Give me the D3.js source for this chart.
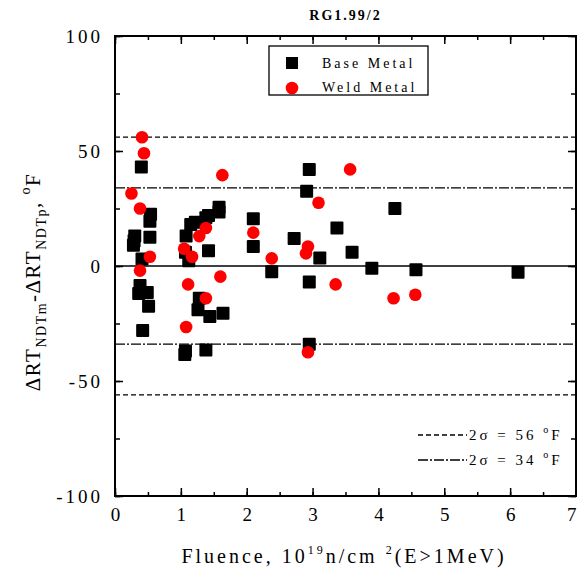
<!DOCTYPE html>
<html>
<head>
<meta charset="utf-8">
<script src="https://cdn.jsdelivr.net/npm/d3@7"></script>
<style>
  body { margin: 0; background: #fff; }
  svg { display: block; }
  svg text { font-family: "Liberation Serif", "Times New Roman", serif; }
</style>
</head>
<body>
<div id="chart"></div>
<script>
// data
const title = 'RG1.99/2'
const xTicks = [0, 1, 2, 3, 4, 5, 6, 7]
const yTicks = [-100, -50, 0, 50, 100]

// base metal: [fluence, delta]
const baseMetal = [
  [0.40, 43], [0.54, 22.5], [0.53, 19.5], [0.30, 13], [0.53, 12.5], [0.28, 9],
  [0.29, 11], [0.41, 3], [1.08, 13], [1.15, 18], [1.22, 19], [1.38, 21],
  [1.42, 22], [1.58, 25.5], [1.58, 23.5], [2.10, 20.5], [1.07, 6], [1.12, 2.3],
  [1.42, 6.6], [2.10, 8.5], [2.38, -2.5], [0.38, -8.5], [0.36, -12], [0.49, -11.5],
  [0.51, -17.5], [0.42, -28], [1.28, -14], [1.26, -19], [1.44, -22], [1.64, -20.5],
  [1.07, -37], [1.06, -38.5], [1.38, -36.5], [2.95, 42], [2.91, 32.5], [4.25, 25],
  [3.37, 16.5], [2.72, 12], [3.11, 3.5], [3.60, 6], [3.90, -1], [4.57, -1.6],
  [2.95, -7], [2.95, -34], [6.12, -2.7],
]

// weld metal: [fluence, delta]
const weldMetal = [
  [0.41, 56], [0.44, 49], [1.63, 39.5], [0.25, 31.5], [0.38, 25], [1.38, 16.5],
  [1.28, 13], [2.10, 14.5], [0.53, 4], [1.05, 7.5], [1.17, 4], [2.38, 3.3],
  [0.38, -2], [1.11, -8], [1.60, -4.6], [1.38, -14], [1.08, -26.5], [3.57, 42],
  [3.09, 27.5], [2.93, 8.5], [2.90, 5.5], [3.35, -8], [4.23, -14], [4.56, -12.5],
  [2.93, -37.5],
]

// 2 sigma bands
const sigmaBands = [56, 34]

const W = 577, H = 573
const margin = { top: 36, right: 0, bottom: 76, left: 115 }
const serif = '"Liberation Serif", "Times New Roman", serif'

const svg = d3.select('#chart').append('svg')
  .attr('width', W)
  .attr('height', H)

const x = d3.scaleLinear().domain([0, 7]).range([margin.left, W - 1])
const y = d3.scaleLinear().domain([-100, 100]).range([H - margin.bottom - 1, margin.top])

// clip for markers and lines
svg.append('clipPath').attr('id', 'plot-clip')
  .append('rect')
  .attr('x', x(0)).attr('y', y(100))
  .attr('width', x(7) - x(0)).attr('height', y(-100) - y(100))

const plot = svg.append('g').attr('clip-path', 'url(#plot-clip)')

// reference lines
plot.append('line')
  .attr('x1', x(0)).attr('x2', x(7))
  .attr('y1', y(0)).attr('y2', y(0))
  .attr('stroke', '#000').attr('stroke-width', 1.5)

sigmaBands.forEach((s, i) => {
  ;[s, -s].forEach(v => {
    plot.append('line')
      .attr('x1', x(0)).attr('x2', x(7))
      .attr('y1', y(v)).attr('y2', y(v))
      .attr('stroke', '#000').attr('stroke-width', 1.3)
      .attr('stroke-dasharray', i === 0 ? '5,3' : '10,2,2,2')
  })
})

// markers
const sq = 13
plot.selectAll('.base').data(baseMetal).enter()
  .append('rect')
  .attr('class', 'base')
  .attr('x', d => x(d[0]) - sq / 2)
  .attr('y', d => y(d[1]) - sq / 2)
  .attr('width', sq).attr('height', sq)
  .attr('rx', 1)
  .attr('fill', '#000')

plot.selectAll('.weld').data(weldMetal).enter()
  .append('circle')
  .attr('class', 'weld')
  .attr('cx', d => x(d[0]))
  .attr('cy', d => y(d[1]))
  .attr('r', 6.3)
  .attr('fill', '#ff0000')

// axes with inward ticks
const xMinor = d3.range(0, 7.01, 0.5)
const yMinor = d3.range(-100, 100.1, 25)
const intFmt = d => String(d) // plain hyphen for negatives

function styleAxis(g) {
  g.attr('font-family', serif)
  g.select('.domain').remove()
  g.selectAll('line').attr('stroke', '#000').attr('stroke-width', 1.5)
  g.selectAll('text')
    .attr('fill', '#000')
    .style('font-size', '19px')
    .style('font-family', serif)
}

svg.append('g')
  .attr('transform', `translate(0,${y(-100)})`)
  .call(d3.axisBottom(x).tickValues(xMinor).tickSize(-4).tickFormat(''))
  .call(styleAxis)
svg.append('g')
  .attr('transform', `translate(0,${y(-100)})`)
  .call(d3.axisBottom(x).tickValues(xTicks).tickSize(-8).tickPadding(12).tickFormat(intFmt))
  .call(styleAxis)
  .call(g => g.selectAll('text')
    .filter(d => d === 7)
    .attr('text-anchor', 'end')
    .attr('x', 0))

svg.append('g')
  .attr('transform', `translate(0,${y(100)})`)
  .call(d3.axisTop(x).tickValues(xMinor).tickSize(-4).tickFormat(''))
  .call(styleAxis)
svg.append('g')
  .attr('transform', `translate(0,${y(100)})`)
  .call(d3.axisTop(x).tickValues(xTicks).tickSize(-8).tickFormat(''))
  .call(styleAxis)

svg.append('g')
  .attr('transform', `translate(${x(0)},0)`)
  .call(d3.axisLeft(y).tickValues(yMinor).tickSize(-5).tickFormat(''))
  .call(styleAxis)
svg.append('g')
  .attr('transform', `translate(${x(0)},0)`)
  .call(d3.axisLeft(y).tickValues(yTicks).tickSize(-8).tickPadding(12).tickFormat(intFmt))
  .call(styleAxis)
  .call(g => g.selectAll('text').style('letter-spacing', '3px'))

svg.append('g')
  .attr('transform', `translate(${x(7)},0)`)
  .call(d3.axisRight(y).tickValues(yMinor).tickSize(-5).tickFormat(''))
  .call(styleAxis)
svg.append('g')
  .attr('transform', `translate(${x(7)},0)`)
  .call(d3.axisRight(y).tickValues(yTicks).tickSize(-8).tickFormat(''))
  .call(styleAxis)

// frame
svg.append('rect')
  .attr('x', x(0)).attr('y', y(100))
  .attr('width', x(7) - x(0)).attr('height', y(-100) - y(100))
  .attr('fill', 'none').attr('stroke', '#000').attr('stroke-width', 2)

// title
svg.append('text')
  .attr('x', (x(0) + x(7)) / 2)
  .attr('y', 20)
  .attr('text-anchor', 'middle')
  .style('font-size', '14px')
  .style('font-weight', 'bold')
  .style('letter-spacing', '2px')
  .text(title)

// legend box
const legend = svg.append('g').attr('transform', 'translate(269,46)')
legend.append('rect')
  .attr('width', 159).attr('height', 49)
  .attr('fill', '#fff').attr('stroke', '#000').attr('stroke-width', 1.3)
legend.append('rect')
  .attr('x', 23 - 6).attr('y', 17 - 6).attr('width', 12).attr('height', 12)
  .attr('fill', '#000')
legend.append('circle')
  .attr('cx', 23).attr('cy', 42).attr('r', 6.3)
  .attr('fill', '#ff0000')
;['Base Metal', 'Weld Metal'].forEach((t, i) => {
  legend.append('text')
    .attr('x', 53).attr('y', 22 + i * 24)
    .style('font-size', '14px')
    .style('letter-spacing', '3px')
    .text(t)
})

// sigma legend
sigmaBands.forEach((s, i) => {
  const ly = 435 + i * 25
  svg.append('line')
    .attr('x1', 418).attr('x2', 467)
    .attr('y1', ly).attr('y2', ly)
    .attr('stroke', '#000').attr('stroke-width', 1.3)
    .attr('stroke-dasharray', i === 0 ? '5,3' : '10,2,2,2')
  const t = svg.append('text')
    .attr('x', 469).attr('y', ly + 5)
    .style('font-size', '15px')
    .style('letter-spacing', '3px')
  t.append('tspan').text(`2\u03c3 = ${s} `)
  t.append('tspan').attr('dy', -7).style('font-size', '10px').text('o')
  t.append('tspan').attr('dy', 7).text('F')
})

// y label
const yl = svg.append('text')
  .attr('transform', 'translate(40,282) rotate(-90)')
  .attr('text-anchor', 'middle')
  .style('font-size', '21px')
  .style('letter-spacing', '1.5px')
yl.append('tspan').text('\u0394RT')
yl.append('tspan').attr('dy', 6).style('font-size', '14px').text('NDTm')
yl.append('tspan').attr('dy', -6).text('-\u0394RT')
yl.append('tspan').attr('dy', 6).style('font-size', '14px').text('NDTp')
yl.append('tspan').attr('dy', -6).text(', ')
yl.append('tspan').attr('dy', -10).style('font-size', '14px').text('o')
yl.append('tspan').attr('dy', 10).text('F')

// x label
const xl = svg.append('text')
  .attr('x', 344).attr('y', 563)
  .attr('text-anchor', 'middle')
  .style('font-size', '20px')
  .style('letter-spacing', '3px')
xl.append('tspan').text('Fluence, 10')
xl.append('tspan').attr('dy', -9).style('font-size', '12px').text('19')
xl.append('tspan').attr('dy', 9).text('n/cm ')
xl.append('tspan').attr('dy', -9).style('font-size', '12px').text('2')
xl.append('tspan').attr('dy', 9).text('(E>1MeV)')
</script>
</body>
</html>
